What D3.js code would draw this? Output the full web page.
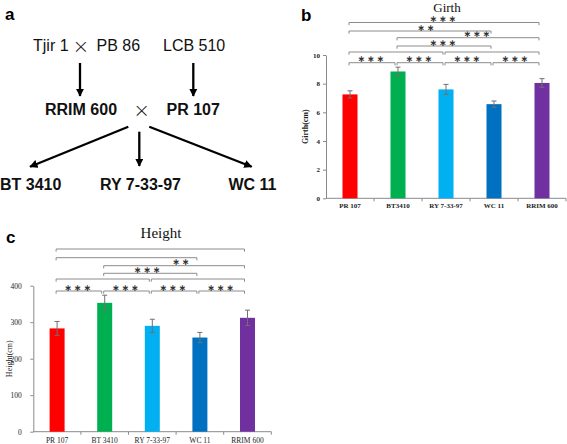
<!DOCTYPE html>
<html><head><meta charset="utf-8">
<script src="https://cdn.jsdelivr.net/npm/d3@7"></script>
<style>body{margin:0;background:#fff}svg{display:block}</style>
</head><body>
<script>
// ---------- DATA ----------
const categories = ["PR 107", "BT 3410", "RY 7-33-97", "WC 11", "RRIM 600"];
const girthLabels = ["PR 107", "BT3410", "RY 7-33-97", "WC 11", "RRIM 600"];
const heightLabels = ["PR 107", "BT 3410", "RY 7-33-97", "WC 11", "RRIM 600"];
const girthMean = [7.25, 8.85, 7.6, 6.57, 8.05];
const girthErr = [0.25, 0.3, 0.35, 0.22, 0.3];
const heightMean = [283, 353, 290, 258, 312];
const heightErr = [19, 21, 18, 14, 21];
const girthTicks = [0, 2, 4, 6, 8, 10];
const heightTicks = [0, 100, 200, 300, 400];
const barColors = ["#ff0000", "#00b050", "#00b0f0", "#0070c0", "#7030a0"];
// brackets: [from, to, level, label]
const girthBrackets = [[0,1,0,"∗∗∗"],[1,2,0,"∗∗∗"],[2,3,0,"∗∗∗"],[3,4,0,"∗∗∗"],
  [0,2,1,""],[2,4,1,""],[1,3,2,"∗∗∗"],[1,4,3,"∗∗∗"],[0,3,4,"∗∗"],[0,4,5,"∗∗∗"]];
const heightBrackets = [[0,1,0,"∗∗∗"],[1,2,0,"∗∗∗"],[2,3,0,"∗∗∗"],[3,4,0,"∗∗∗"],
  [0,2,1,""],[2,4,1,""],[1,3,2,"∗∗∗"],[1,4,3,"∗∗"],[0,3,4,""],[0,4,5,""]];
// diagram text
const parentsTop = ["Tjir 1", "PB 86", "LCB 510"];
const parentsMid = ["RRIM 600", "PR 107"];
const progeny = ["BT 3410", "RY 7-33-97", "WC 11"];

// ---------- SVG ----------
const svg = d3.select("body").append("svg").attr("width", 567).attr("height", 444);
svg.append("defs").append("marker").attr("id","arr").attr("viewBox","0 0 10 10")
  .attr("refX",9).attr("refY",5).attr("markerWidth",3.6).attr("markerHeight",3.6)
  .attr("markerUnits","strokeWidth").attr("orient","auto")
  .append("path").attr("d","M0,0L10,5L0,10Z").attr("fill","#000");

const sans = "'Liberation Sans', Arial, sans-serif";
const serif = "'Liberation Serif', 'Times New Roman', serif";

// ---------- Panel a ----------
const a = svg.append("g");
a.append("text").attr("x",5).attr("y",20).text("a").attr("font-family",sans).attr("font-weight","bold").attr("font-size",17);
const tA = (x,y,t,bold)=>a.append("text").attr("x",x).attr("y",y).text(t)
  .attr("font-family",sans).attr("font-size",16).attr("font-weight",bold?"bold":"normal").attr("fill","#111");
tA(33,51,parentsTop[0]); tA(96.5,51,parentsTop[1]); tA(163,51,parentsTop[2]);
const cross = (cx,cy)=>a.append("text").attr("x",cx).attr("y",cy).attr("text-anchor","middle")
  .attr("dominant-baseline","central").text("×").attr("font-family","'DejaVu Sans', sans-serif")
  .attr("font-weight","200").attr("font-size",20).attr("fill","#222");
cross(81,45.5); cross(141.7,109.5);
tA(45,115,parentsMid[0],true); tA(166.5,115,parentsMid[1],true);
tA(0,190,progeny[0],true); tA(100,190,progeny[1],true); tA(228.5,190,progeny[2],true);
const arrow=(x1,y1,x2,y2)=>a.append("line").attr("x1",x1).attr("y1",y1).attr("x2",x2).attr("y2",y2)
  .attr("stroke","#000").attr("stroke-width",2.3).attr("marker-end","url(#arr)");
arrow(80,63,80,96); arrow(193.3,63,193.3,96);
arrow(128.3,126.7,30,166.7); arrow(139.3,131.7,139.3,166); arrow(149.3,126.7,251.7,166.7);

// ---------- Bar panels ----------
function panel(o) {
  const g = svg.append("g");
  const x = d3.scaleBand().domain(categories).range([o.x0, o.x1]).paddingInner(o.pad).paddingOuter(o.pad/2);
  const y = d3.scaleLinear().domain([0, o.max]).range([o.y0, o.yTop]);
  const cx = i => x(categories[i]) + x.bandwidth()/2;
  // y axis
  const ya = g.append("g").attr("transform",`translate(${o.x0},0)`)
    .call(d3.axisLeft(y).tickValues(o.ticks).tickSize(3).tickPadding(o.tickPad).tickSizeOuter(0));
  ya.select(".domain").attr("stroke","#8a8a8a");
  ya.selectAll(".tick line").attr("stroke","#8a8a8a");
  ya.selectAll(".tick text").attr("font-family",serif).attr("font-size",o.tickFont)
    .attr("font-weight",o.bold?"bold":"normal").attr("fill","#222");
  // x axis
  g.append("line").attr("x1",o.x0).attr("x2",o.x1).attr("y1",o.y0).attr("y2",o.y0).attr("stroke","#8a8a8a");
  g.selectAll(".bt").data(d3.range(1,categories.length+1)).join("line")
    .attr("x1",i=>o.x0+x.step()*i).attr("x2",i=>o.x0+x.step()*i)
    .attr("y1",o.y0).attr("y2",o.y0+3).attr("stroke","#8a8a8a");
  g.selectAll(".xl").data(o.labels).join("text")
    .attr("x",(d,i)=>cx(i)).attr("y",o.xlY).attr("text-anchor","middle").text(d=>d)
    .attr("font-family",serif).attr("font-size",o.xFont).attr("font-weight",o.bold?"bold":"normal").attr("fill","#222");
  // bars
  g.selectAll(".bar").data(o.mean).join("rect")
    .attr("x",(d,i)=>x(categories[i])).attr("width",x.bandwidth())
    .attr("y",d=>y(d)).attr("height",d=>o.y0-y(d)).attr("fill",(d,i)=>barColors[i]);
  // error bars
  const eb = g.selectAll(".eb").data(o.mean).join("g").attr("stroke","#707070").attr("stroke-width",1);
  eb.append("line").attr("x1",(d,i)=>cx(i)).attr("x2",(d,i)=>cx(i))
    .attr("y1",(d,i)=>y(d+o.err[i])).attr("y2",(d,i)=>y(d-o.err[i]));
  eb.append("line").attr("x1",(d,i)=>cx(i)-2.5).attr("x2",(d,i)=>cx(i)+2.5)
    .attr("y1",(d,i)=>y(d+o.err[i])).attr("y2",(d,i)=>y(d+o.err[i]));
  eb.append("line").attr("x1",(d,i)=>cx(i)-2.5).attr("x2",(d,i)=>cx(i)+2.5)
    .attr("y1",(d,i)=>y(d-o.err[i])).attr("y2",(d,i)=>y(d-o.err[i]));
  // brackets
  const top = y(o.max);
  o.brackets.forEach(([f,t,lev,lab],k)=>{
    const yy = top + o.levels[lev];
    const x1 = cx(f)-1, x2 = cx(t)-3;
    g.append("path").attr("d",`M${x1},${yy+2.7}V${yy}H${x2}V${yy+2.7}`)
      .attr("fill","none").attr("stroke","#8c8c8c").attr("stroke-width",1);
    if (lab) {
      const lx = (x1+x2)/2 + (o.nudge[k]||0);
      g.append("text").attr("x",lx).attr("y",yy-3.3).attr("text-anchor","middle")
        .attr("dominant-baseline","central").text(lab)
        .attr("font-family","'DejaVu Sans', sans-serif").attr("font-size",9).attr("font-weight","bold")
        .attr("letter-spacing",2).attr("fill","#333");
    }
  });
  // title & y label
  g.append("text").attr("x",o.titleX).attr("y",o.titleY).attr("text-anchor","middle").text(o.title)
    .attr("font-family",serif).attr("font-size",o.titleFont).attr("fill","#111");
  g.append("text").attr("transform",`translate(${o.ylX},${(o.y0+o.yTop)/2}) rotate(-90)`)
    .attr("text-anchor","middle").attr("dominant-baseline","central").text(o.ylab)
    .attr("font-family",serif).attr("font-size",8).attr("font-weight",o.bold?"bold":"normal").attr("fill","#222");
  g.append("text").attr("x",o.letterX).attr("y",o.letterY).text(o.letter)
    .attr("font-family",sans).attr("font-weight","bold").attr("font-size",17);
}

panel({x0:326, x1:566, y0:198.3, yTop:55, pad:0.6875, max:10, ticks:girthTicks, tickPad:3, tickFont:7,
  bold:true, labels:girthLabels, xlY:207.5, xFont:7, mean:girthMean, err:girthErr,
  brackets:girthBrackets, levels:[7.7,-3,-9,-17.3,-24,-32.5], nudge:{8:7,7:10},
  title:"Girth", titleX:447, titleY:11.8, titleFont:13, ylab:"Girth(cm)", ylX:305, letter:"b", letterX:301, letterY:21});

panel({x0:33.3, x1:271.3, y0:431.7, yTop:285.7, pad:0.685, max:400, ticks:heightTicks, tickPad:8.5, tickFont:7.5,
  bold:false, labels:heightLabels, xlY:443, xFont:7.5, mean:heightMean, err:heightErr,
  brackets:heightBrackets, levels:[5.3,-6.7,-12.4,-20,-28,-36.7], nudge:{7:8,6:-2},
  title:"Height", titleX:161, titleY:237.5, titleFont:15, ylab:"Height(cm)", ylX:9, letter:"c", letterX:6, letterY:243});
</script>
</body></html>
